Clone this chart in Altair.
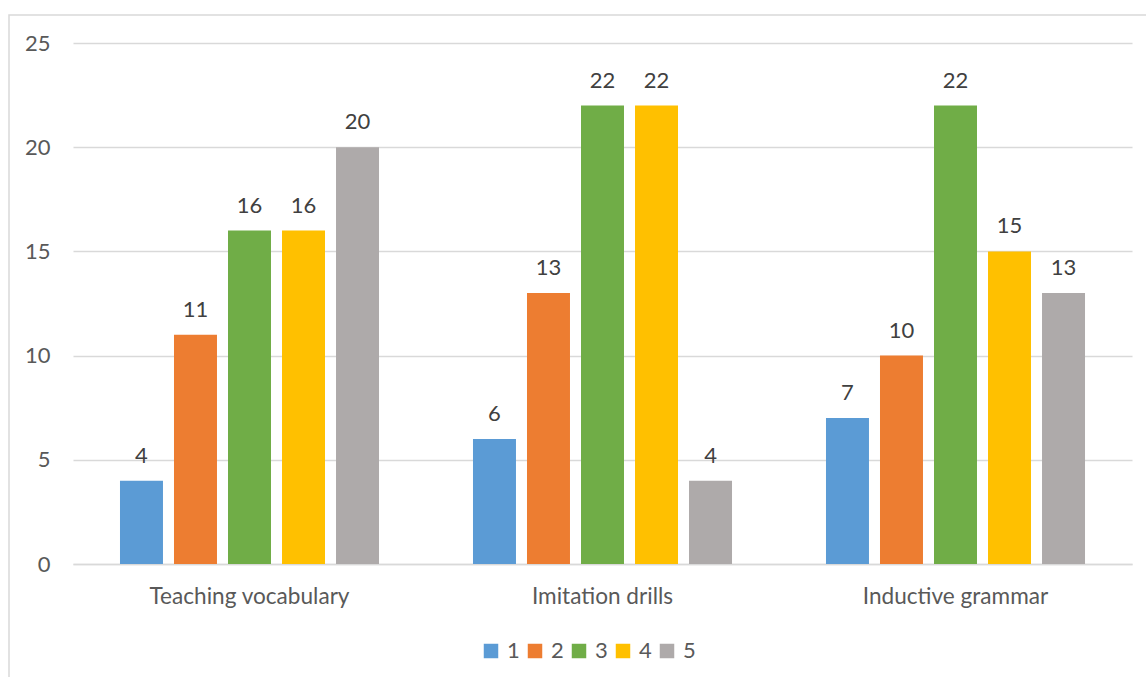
import altair as alt
import pandas as pd

categories = ["Teaching vocabulary", "Imitation drills", "Inductive grammar"]
series = ["1", "2", "3", "4", "5"]
values_1 = [4, 6, 7]
values_2 = [11, 13, 10]
values_3 = [16, 22, 22]
values_4 = [16, 22, 15]
values_5 = [20, 4, 13]
colors = ["#5B9BD5", "#ED7D31", "#70AD47", "#FFC000", "#AEAAAA"]
y_ticks = [0, 5, 10, 15, 20, 25]

rows = []
for s, vals in zip(series, [values_1, values_2, values_3, values_4, values_5]):
    for c, v in zip(categories, vals):
        rows.append({"category": c, "series": s, "value": v})
df = pd.DataFrame(rows)

FONT = "Lato"

x_enc = alt.X(
    "category:N", sort=categories,
    scale=alt.Scale(paddingInner=0, paddingOuter=0),
    axis=alt.Axis(title=None, labelAngle=0, labelFont=FONT, labelFontSize=22.6,
                  labelColor="#595959", labelPadding=21, labelBaseline="top",
                  labelLimit=0, ticks=False, domainColor="#D9D9D9",
                  domainWidth=1.3, grid=False),
)
xoff_enc = alt.XOffset("series:N", sort=series,
                       scale=alt.Scale(paddingInner=0.204, paddingOuter=0.87))
y_enc = alt.Y(
    "value:Q",
    scale=alt.Scale(domain=[0, 25], nice=False),
    axis=alt.Axis(title=None, values=y_ticks, labelFont=FONT, labelFontSize=22,
                  labelColor="#595959", labelPadding=23, ticks=False,
                  domain=False, grid=True, gridColor="#D9D9D9", gridWidth=1.3),
)

base = alt.Chart(df)

bars = base.mark_bar().encode(
    x=x_enc,
    xOffset=xoff_enc,
    y=y_enc,
    color=alt.Color(
        "series:N", sort=series,
        scale=alt.Scale(domain=series, range=colors),
        legend=alt.Legend(
            title=None, orient="none", direction="horizontal",
            legendX=407, legendY=597,
            symbolType="square", symbolSize=210, symbolStrokeWidth=0,
            symbolOpacity=1,
            labelFont=FONT, labelFontSize=22, labelColor="#595959",
            labelOffset=5, columnPadding=4,
        ),
    ),
)

labels = base.mark_text(
    font=FONT, fontSize=22, color="#404040", baseline="alphabetic", dy=-18
).encode(
    x=alt.X("category:N", sort=categories),
    xOffset=alt.XOffset("series:N", sort=series),
    y=alt.Y("value:Q"),
    text=alt.Text("value:Q"),
)

border = alt.Chart(pd.DataFrame({"a": [0]})).mark_rect(
    fill=None, stroke="#D9D9D9", strokeWidth=1.5
).encode(
    x=alt.value(-64), x2=alt.value(1200),
    y=alt.value(-28), y2=alt.value(720),
)

chart = alt.layer(border, bars, labels).properties(
    width=1059, height=521,
    autosize=alt.AutoSizeParams(type="none"),
    padding={"left": 73, "top": 43, "right": 14, "bottom": 113},
    background="white",
).configure_view(stroke=None)

chart.save("out.html", embed_options={"renderer": "svg", "actions": False})
